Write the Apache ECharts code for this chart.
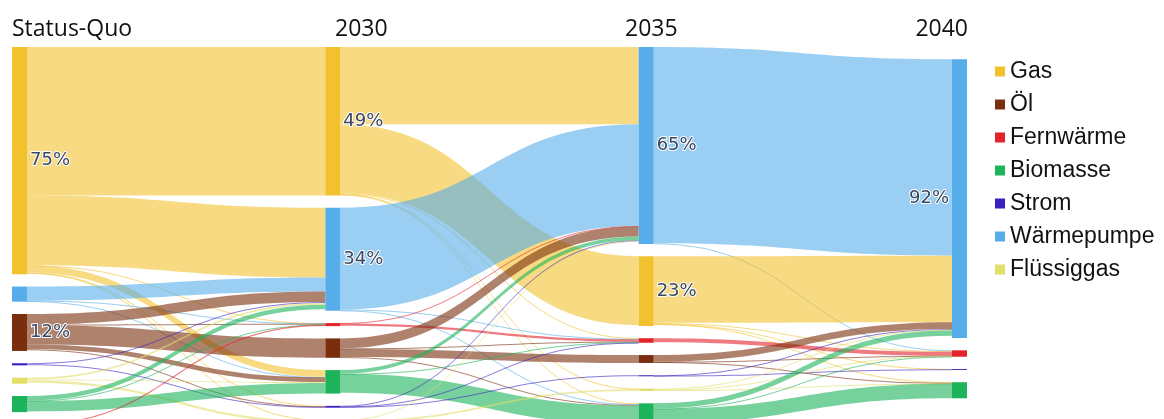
<!DOCTYPE html>
<html>
<head>
<meta charset="utf-8">
<script src="https://cdn.jsdelivr.net/npm/echarts@6/dist/echarts.min.js"></script>
<style>html,body{margin:0;padding:0;background:#fff}#c{width:1164px;height:419px}</style>
</head>
<body>
<div id="c"></div>
<script>
// ---- data ----
const stages = ['Status-Quo', '2030', '2035', '2040'];
const categories = ['Gas', 'Öl', 'Fernwärme', 'Biomasse', 'Strom', 'Wärmepumpe', 'Flüssiggas'];

// node order (top to bottom) and share in % per stage
const sqOrder = ['Gas', 'Wärmepumpe', 'Öl', 'Strom', 'Flüssiggas', 'Biomasse', 'Fernwärme'];
const sqShares = [75, 5, 12.2, 0.7, 2, 5.3, 0.5];
const order2030 = ['Gas', 'Wärmepumpe', 'Fernwärme', 'Öl', 'Biomasse', 'Strom', 'Flüssiggas'];
const shares2030 = [49, 34, 1.0, 6.4, 7.7, 0.6, 1.0];
const order2035 = ['Wärmepumpe', 'Gas', 'Fernwärme', 'Öl', 'Strom', 'Flüssiggas', 'Biomasse'];
const shares2035 = [65, 23, 1.5, 2.6, 0.35, 0.8, 7.1];
const order2040 = ['Gas', 'Wärmepumpe', 'Fernwärme', 'Strom', 'Biomasse'];
const shares2040 = [0, 92, 2.1, 0.3, 5.3];

// flows [from, to, share %]
const flowsSQto2030 = [
  ['Gas', 'Gas', 49], ['Gas', 'Wärmepumpe', 23], ['Gas', 'Fernwärme', 0.1], ['Gas', 'Biomasse', 2.3], ['Gas', 'Strom', 0.1], ['Gas', 'Flüssiggas', 0.2],
  ['Wärmepumpe', 'Wärmepumpe', 4.6], ['Wärmepumpe', 'Fernwärme', 0.15], ['Wärmepumpe', 'Biomasse', 0.15],
  ['Öl', 'Wärmepumpe', 3.5], ['Öl', 'Fernwärme', 0.2], ['Öl', 'Öl', 6.4], ['Öl', 'Biomasse', 1.5], ['Öl', 'Strom', 0.2],
  ['Strom', 'Wärmepumpe', 0.3], ['Strom', 'Strom', 0.3],
  ['Flüssiggas', 'Wärmepumpe', 0.6], ['Flüssiggas', 'Biomasse', 0.3], ['Flüssiggas', 'Flüssiggas', 0.8],
  ['Biomasse', 'Wärmepumpe', 1.5], ['Biomasse', 'Fernwärme', 0.1], ['Biomasse', 'Biomasse', 3.5],
  ['Fernwärme', 'Fernwärme', 0.4]
];
const flows2030to2035 = [
  ['Gas', 'Wärmepumpe', 25.5], ['Gas', 'Gas', 22.8], ['Gas', 'Fernwärme', 0.2], ['Gas', 'Flüssiggas', 0.2], ['Gas', 'Biomasse', 0.3],
  ['Wärmepumpe', 'Wärmepumpe', 33.6], ['Wärmepumpe', 'Fernwärme', 0.2], ['Wärmepumpe', 'Biomasse', 0.2],
  ['Fernwärme', 'Wärmepumpe', 0.15], ['Fernwärme', 'Fernwärme', 0.7],
  ['Öl', 'Wärmepumpe', 3.3], ['Öl', 'Fernwärme', 0.2], ['Öl', 'Öl', 2.6], ['Öl', 'Biomasse', 0.3],
  ['Biomasse', 'Wärmepumpe', 1.2], ['Biomasse', 'Fernwärme', 0.1], ['Biomasse', 'Biomasse', 6.2],
  ['Strom', 'Wärmepumpe', 0.2], ['Strom', 'Fernwärme', 0.1], ['Strom', 'Strom', 0.3],
  ['Flüssiggas', 'Wärmepumpe', 0.2], ['Flüssiggas', 'Flüssiggas', 0.6], ['Flüssiggas', 'Biomasse', 0.1]
];
const flows2035to2040 = [
  ['Wärmepumpe', 'Wärmepumpe', 64.8], ['Wärmepumpe', 'Fernwärme', 0.2],
  ['Gas', 'Wärmepumpe', 22.0], ['Gas', 'Fernwärme', 0.3], ['Gas', 'Biomasse', 0.2], ['Gas', 'Strom', 0.1],
  ['Fernwärme', 'Fernwärme', 1.3],
  ['Öl', 'Wärmepumpe', 2.2], ['Öl', 'Fernwärme', 0.1], ['Öl', 'Biomasse', 0.2],
  ['Strom', 'Wärmepumpe', 0.15], ['Strom', 'Strom', 0.2],
  ['Flüssiggas', 'Wärmepumpe', 0.4], ['Flüssiggas', 'Fernwärme', 0.1], ['Flüssiggas', 'Biomasse', 0.1],
  ['Biomasse', 'Wärmepumpe', 1.7], ['Biomasse', 'Fernwärme', 0.1], ['Biomasse', 'Biomasse', 4.8]
];

// ---- styles ----
const palette = {
  'Gas': '#F2C12E', 'Öl': '#7A2E0E', 'Fernwärme': '#E3222A', 'Biomasse': '#1DB35A',
  'Strom': '#3A1FC0', 'Wärmepumpe': '#56ADE9', 'Flüssiggas': '#E2DE6A'
};
const titlePos = [{left: 12}, {left: 335}, {left: 625}, {right: 196}];

// ---- build ----
const stageOrders = [sqOrder, order2030, order2035, order2040];
const stageShares = [sqShares, shares2030, shares2035, shares2040];
const nodes = [];
stageOrders.forEach((order, s) => order.forEach((cat, i) => {
  const v = stageShares[s][i];
  nodes.push({
    name: cat + ' ' + stages[s], value: v, depth: s,
    itemStyle: {color: palette[cat]},
    label: {show: v >= 10, position: s === stages.length - 1 ? 'left' : 'right'}
  });
}));
const flowSets = [flowsSQto2030, flows2030to2035, flows2035to2040];
const links = [];
flowSets.forEach((set, s) => set.forEach(([a, b, v]) => links.push({
  source: a + ' ' + stages[s], target: b + ' ' + stages[s + 1], value: v
})));

const chart = echarts.init(document.getElementById('c'), null, {renderer: 'canvas'});
chart.setOption({
  backgroundColor: '#fff',
  animation: false,
  title: stages.map((s, i) => Object.assign({
    text: s, top: 18, padding: 0,
    textStyle: {fontFamily: 'Open Sans', fontSize: 23, fontWeight: 'normal', color: '#111'}
  }, titlePos[i])),
  legend: {
    data: categories, orient: 'vertical', left: 990, top: 55,
    itemWidth: 10, itemHeight: 10, itemGap: 10, icon: 'rect',
    selectedMode: false,
    textStyle: {fontFamily: 'Liberation Sans', fontSize: 23, color: '#111'}
  },
  series: [
    {
      type: 'sankey',
      left: 12, right: 197, top: 47, bottom: -6.9,
      nodeWidth: 15, nodeGap: 12.3, layoutIterations: 0, draggable: false,
      emphasis: {disabled: true},
      itemStyle: {borderWidth: 0},
      lineStyle: {color: 'source', opacity: 0.6, curveness: 0.5},
      label: {
        fontFamily: 'DejaVu Sans', fontSize: 18, color: '#3a4761',
        textBorderColor: '#fff', textBorderWidth: 2, distance: 3,
        formatter: p => Math.round(p.value) + '%'
      },
      data: nodes,
      links: links
    },
    {
      type: 'graph', layout: 'none', silent: true,
      data: [], links: [],
      categories: categories.map(c => ({name: c, itemStyle: {color: palette[c]}}))
    }
  ]
});
</script>
</body>
</html>
